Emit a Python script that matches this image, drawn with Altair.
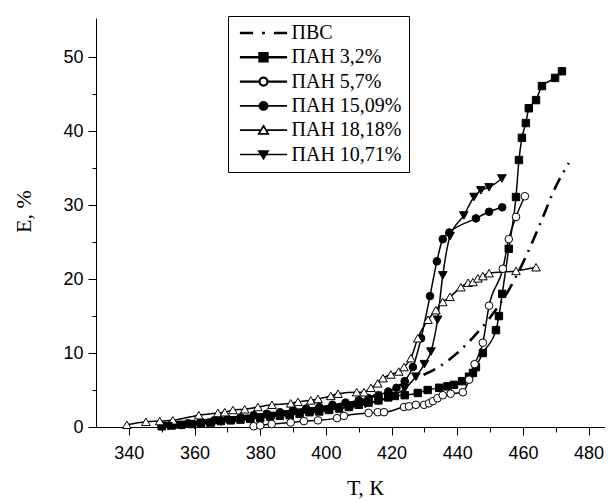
import altair as alt
import pandas as pd

series_names = ["ПВС", "ПАН 3,2%", "ПАН 5,7%", "ПАН 15,09%", "ПАН 18,18%", "ПАН 10,71%"]

# ПВС (dash-dot line, no markers)
pvs_T = [405, 410, 415, 420, 425, 430, 435, 440, 445, 450, 455, 460, 465, 470, 474]
pvs_E = [2.9, 3.5, 4.3, 5.2, 6.1, 7.1, 8.3, 10.0, 12.2, 14.8, 18.0, 22.2, 27.2, 32.5, 35.7]

# ПАН 3,2% (filled squares)
p32_T = [350, 353, 356, 359, 362, 365, 368, 371, 374, 377, 380, 383, 386, 389, 392, 395, 398,
         401, 404, 407, 410, 413, 416, 419, 421, 424, 428, 431, 434.5, 437, 439, 441.5, 443.6,
         444.8, 445.7, 447.8, 451.8, 452.7, 453.7, 455.7, 457.9, 458.8, 459.7, 460.9, 461.8,
         464.0, 465.8, 469.8, 471.9]
p32_E = [0.1, 0.2, 0.3, 0.4, 0.5, 0.6, 0.8, 0.9, 1.0, 1.1, 1.2, 1.4, 1.5, 1.6, 1.8, 2.0, 2.1,
         2.3, 2.5, 2.7, 3.0, 3.3, 3.6, 4.0, 4.2, 4.3, 4.6, 5.0, 5.3, 5.5, 5.7, 6.2, 6.8,
         7.3, 8.1, 10.0, 13.1, 15.0, 18.0, 24.1, 31.1, 36.1, 39.1, 41.1, 43.1,
         44.2, 46.1, 47.2, 48.1]

# ПАН 5,7% (open circles)
p57_T = [378, 380, 383.5, 389.3, 393.3, 397.6, 403.4, 405.5, 413, 415.8, 417.7, 423.8, 425.3,
         427.4, 429.9, 431.4, 432.6, 434, 435.6, 438, 441.7, 443.6, 445.3, 447.8, 449.7, 453.9,
         455.7, 457.9, 460.6]
p57_E = [0.1, 0.2, 0.4, 0.6, 0.8, 0.9, 1.2, 1.5, 1.9, 2.0, 2.0, 2.7, 2.8,
         3.0, 3.0, 3.2, 3.5, 3.9, 4.3, 4.5, 4.7, 6.4, 8.5, 11.4, 16.4, 21.4,
         25.4, 28.4, 31.2]

# ПАН 15,09% (filled circles)
p1509_T = [350, 354, 358, 362, 366, 370, 374, 378, 382, 386, 390, 394, 398, 402, 406, 410, 413,
           416, 419, 421.5, 424, 426.5, 429, 431.7, 433.8, 435.6, 437.6, 445.7, 449.7, 453.7]
p1509_E = [0.1, 0.3, 0.5, 0.7, 0.9, 1.1, 1.3, 1.6, 1.8, 2.0, 2.3, 2.5, 2.7, 3.0, 3.3, 3.6, 3.9,
           4.3, 4.8, 5.3, 6.2, 8.1, 12.0, 17.7, 22.4, 25.4, 26.3, 28.2, 29.1, 29.7]

# ПАН 18,18% (open up-triangles)
p1818_T = [339.4, 345.2, 349.4, 353.4, 361.3, 367.1, 369.2, 371.7, 375.3, 379.3, 383.6, 389.3,
           391.5, 395.4, 397.6, 401.5, 403.7, 409.4, 411.6, 413.7, 415.8, 417.4, 419.8, 422.2,
           423.8, 425.9, 428.0, 431.1, 433.5, 435.6, 437.8, 441.1, 443.3, 444.8, 446.3, 447.8,
           449.7, 457.9, 464.0]
p1818_E = [0.3, 0.7, 0.8, 0.9, 1.6, 1.9, 2.0, 2.3, 2.4, 2.7, 3.0, 3.2,
           3.4, 3.6, 3.8, 4.2, 4.5, 4.7, 4.7, 5.3, 5.9, 6.6, 7.1, 7.5,
           8.1, 9.3, 12.0, 14.5, 15.8, 16.9, 17.6, 18.9, 19.5, 19.6, 20.1, 20.4,
           20.8, 21.1, 21.6]

# ПАН 10,71% (filled down-triangles)
p1071_T = [352, 356, 360, 364, 368, 372, 376, 380, 384, 388, 392, 396, 400, 404, 408, 412, 416,
           420, 424, 427.4, 430, 432, 434, 435.6, 437.8, 442, 445.1, 447.2, 449.7, 453.6]
p1071_E = [0.1, 0.2, 0.3, 0.5, 0.7, 0.9, 1.1, 1.3, 1.5, 1.7, 1.9, 2.1, 2.3, 2.5, 2.8, 3.1, 3.5,
           4.1, 5.2, 6.8, 8.5, 10.2, 14.5, 20.5, 25.8, 28.6, 31.1, 32.0, 32.4, 33.6]

all_series = [
    (series_names[0], pvs_T, pvs_E),
    (series_names[1], p32_T, p32_E),
    (series_names[2], p57_T, p57_E),
    (series_names[3], p1509_T, p1509_E),
    (series_names[4], p1818_T, p1818_E),
    (series_names[5], p1071_T, p1071_E),
]
rows = []
for name, ts, es in all_series:
    for t, e in zip(ts, es):
        rows.append({"series": name, "grp": name, "T": t, "E": e})
df = pd.DataFrame(rows)

x_enc = alt.X(
    "T:Q",
    scale=alt.Scale(domain=[330, 485], nice=False, zero=False),
    axis=alt.Axis(
        values=list(range(340, 490, 10)),
        labelExpr="datum.value % 20 === 0 ? datum.label : ''",
        tickSize={"condition": {"test": "datum.value % 20 === 0", "value": 8}, "value": 5},
        title="Т, К", titleFont="Liberation Serif", titleFontSize=22, titleFontWeight="normal",
        titleX=269, titleY=67, titleBaseline="alphabetic", titleAlign="center",
        labelFont="Liberation Sans", labelFontSize=18, labelPadding=9,
        labelOverlap=False, labelFlush=False,
    ),
)
y_enc = alt.Y(
    "E:Q",
    scale=alt.Scale(domain=[0, 55.3], nice=False),
    axis=alt.Axis(
        values=list(range(0, 55, 5)),
        labelExpr="datum.value % 10 === 0 ? datum.label : ''",
        tickSize={"condition": {"test": "datum.value % 10 === 0", "value": 8}, "value": 4},
        title="Е, %", titleFont="Liberation Serif", titleFontSize=22, titleFontWeight="normal",
        titleX=-73, titleY=193, titleBaseline="middle", titleAlign="center", titleAngle=270,
        labelFont="Liberation Sans", labelFontSize=18, labelPadding=5,
        labelOverlap=False, labelFlush=False,
    ),
)

pvs_line = alt.Chart(df).transform_filter(alt.datum.series == series_names[0]).mark_line(
    interpolate="monotone", color="black", strokeWidth=2.6, strokeDash=[13, 7, 2, 7],
).encode(x=x_enc, y=y_enc)

pan_lines = alt.Chart(df).transform_filter(alt.datum.series != series_names[0]).mark_line(
    interpolate="monotone", color="black", strokeWidth=1.5,
).encode(x=x_enc, y=y_enc, detail="grp:N")

marker_specs = {
    series_names[1]: dict(shape="square", filled=True, size=55),
    series_names[2]: dict(shape="circle", filled=False, size=58),
    series_names[3]: dict(shape="circle", filled=True, size=58),
    series_names[4]: dict(shape="triangle-up", filled=False, size=75),
    series_names[5]: dict(shape="triangle-down", filled=True, size=75),
}
point_layers = []
for name, spec in marker_specs.items():
    fill = "black" if spec["filled"] else "white"
    pl = alt.Chart(df).transform_filter(alt.datum.series == name).mark_point(
        shape=spec["shape"], filled=True, fill=fill, stroke="black", strokeWidth=1,
        size=spec["size"], opacity=1,
    ).encode(x=x_enc, y=y_enc)
    point_layers.append(pl)

seg = "M-5.9,0H-1.1M1.1,0H5.9"
segt = "M-5.9,0H-0.7M0.7,0H5.9"
legend_paths = [
    "M-5.9,0H-2.6M-0.35,0H0.35M2.6,0H5.9",
    seg + "M-1,-1H1V1H-1Z",
    seg + "M1,0A1,1,0,1,1,-1,0A1,1,0,1,1,1,0Z",
    seg + "M1,0A1,1,0,1,1,-1,0A1,1,0,1,1,1,0Z",
    segt + "M0,-1.1L1.2,0.9H-1.2Z",
    segt + "M0,1.1L1.2,-0.9H-1.2Z",
]
legend_fill = ["black", "black", "white", "black", "white", "black"]
legend_stroke = ["black"] * 6
legend_sw = [2.6, 1.5, 1.5, 1.5, 1.5, 1.5]

leg = alt.Legend(
    title=None, orient="none", legendX=132, legendY=-2, direction="vertical",
    padding=7, rowPadding=4.3, labelFont="Liberation Serif", labelFontSize=20,
    labelColor="black", labelLimit=0, symbolSize=64, symbolOffset=18.5, labelOffset=18,
    strokeColor="black", fillColor="white", symbolStrokeColor="black", symbolOpacity=1,
)
legend_layer = alt.Chart(df).mark_point(opacity=0, color="black", size=64).encode(
    x=x_enc, y=y_enc,
    shape=alt.Shape("series:N", scale=alt.Scale(domain=series_names, range=legend_paths), legend=leg),
    fill=alt.Fill("series:N", scale=alt.Scale(domain=series_names, range=legend_fill), legend=leg),
    stroke=alt.Stroke("series:N", scale=alt.Scale(domain=series_names, range=legend_stroke), legend=leg),
    strokeWidth=alt.StrokeWidth("series:N", scale=alt.Scale(domain=series_names, range=legend_sw), legend=leg),
)

chart = alt.layer(pvs_line, pan_lines, *point_layers, legend_layer).properties(
    width=509, height=409,
    autosize=alt.AutoSizeParams(type="none"),
    padding={"left": 88, "top": 10, "right": 0, "bottom": 75},
    background="white",
).configure_view(stroke=None).configure_axis(
    domainColor="black", tickColor="black", labelColor="black", titleColor="black", grid=False,
    domainWidth=1, tickWidth=1,
)

chart.save("out.html", embed_options={"renderer": "svg", "actions": False})
